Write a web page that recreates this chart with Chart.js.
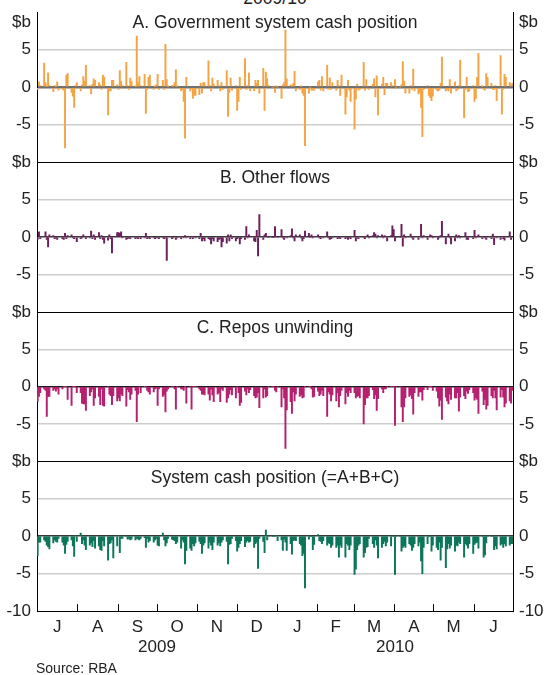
<!DOCTYPE html>
<html>
<head>
<meta charset="utf-8">
<script src="https://cdn.jsdelivr.net/npm/chart.js@4.4.1/dist/chart.umd.min.js"></script>
<style>
  html, body { margin: 0; padding: 0; background: #fff; }
  body { width: 544px; height: 675px; position: relative; overflow: hidden;
         font-family: Arial, "Liberation Sans", sans-serif; color: #222; }
  .panel { position: absolute; left: 0; width: 544px; }
  #title { position: absolute; top: -10px; left: 37px; width: 476px; text-align: center;
           font-size: 17.5px; line-height: 17px; }
  #source { position: absolute; left: 36px; top: 662px; font-size: 14px; line-height: 13px; }
</style>
</head>
<body>
<div id="title">2009/10</div>
<div class="panel" id="p0"><canvas id="c0"></canvas></div>
<div class="panel" id="p1"><canvas id="c1"></canvas></div>
<div class="panel" id="p2"><canvas id="c2"></canvas></div>
<div class="panel" id="p3"><canvas id="c3"></canvas></div>
<div id="source">Source: RBA</div>
<script>
const monthLabels = ['J', 'A', 'S', 'O', 'N', 'D', 'J', 'F', 'M', 'A', 'M', 'J'];
const yearLabels = ['2009', '2010'];
const yTicks = [-10, -5, 0, 5, 10];
const panelTitles = ['A. Government system cash position', 'B. Other flows',
                     'C. Repos unwinding', 'System cash position (=A+B+C)'];

// $b, one row per month (Jul 2009 .. Jun 2010), one value per weekday
const govCash = [
  [-0.3, 0.7, 0.2, 3.2, 0.6, 0.1, 1.9, 0.2, -0.6, 0.2, 0.1, 0.7, -0.4, -0.3, -0.4, -8.1, 1.6, 1.8, -0.7, -1.2, -2.7, 0.2, 0.6],
  [-0.5, 0.3, 1.4, 0.8, 2.9, 0.2, -0.9, 0.4, 1.1, 0.9, 0.6, 0.3, -0.3, 1.6, 1.3, -3.7, -0.5, -0.5, 0.9, 0.9, 0.3],
  [-0.3, 2.2, 0.8, 0.2, 3.3, 0.2, -0.3, 1.2, 0.8, 0.1, 6.8, 0.6, 1.4, 0.2, 1.7, -3.5, -0.3, 1.3, 1.6, -0.3, 0.1, 0.3],
  [1.7, -0.3, 0.9, -0.3, 5.7, 1.0, 0.1, 0.2, 0.2, 0.6, 2.3, 0.1, -0.5, -0.3, -1.9, -6.8, 1.3, -0.5, -0.2, -1.5, -1.1, -1.1],
  [-1.0, 0.5, -0.8, 0.6, 0.6, 3.5, 0.2, -0.5, 1.2, 0.4, 0.9, 0.2, -0.5, 0.6, -0.3, 2.2, -3.9, -0.7, 1.2, -0.4, 0.2],
  [-3.1, -1.9, 1.3, -0.3, 3.8, -0.3, 0.2, 1.9, -0.5, -0.5, 0.9, 0.5, 0.9, -0.8, 2.5, -3.1, 2.0, 1.1, 0.2, 0, 0, -0.7, 0.1],
  [0, -1.5, 0.3, 0.6, 7.6, 1.1, 0.3, 0.2, 0.5, 2.1, -0.5, -0.3, 0.1, -0.8, -1.1, -7.8, -0.8, 0, -0.4, -0.4, -0.4],
  [0.7, 0.9, -0.4, 1.4, -0.5, 2.9, -0.3, 1.2, -0.3, 0.6, -0.4, 0.9, 0.2, -1.1, 1.6, -3.6, -1.3, 0.9, -0.4, -1.9],
  [-5.6, -1.6, 0.4, -0.4, -0.3, 3.3, -0.4, 1.0, -0.2, -0.3, 0.4, 1.1, -1.3, 1.5, -3.7, 0.4, 1.3, -1.0, 0.5, 0.5, 0.6, 0.2, -0.2],
  [1.0, 0, 0, 0.3, 3.4, 0.8, -0.8, -0.8, 0.2, -0.3, 2.4, -0.5, -0.9, -0.7, -2.7, -6.6, -0.3, 0.2, -1.1, -1.4, -1.8, -1.2],
  [-0.4, -0.5, -0.4, 0.5, 4.0, -0.5, -0.3, -0.5, 1.0, -0.8, 0.7, -0.5, -0.3, 0.2, 3.6, -4.1, -0.3, 1.3, -0.6, -0.5, 0.2],
  [-1.9, -1.5, 1.3, 4.5, 0.1, -0.3, -0.4, 1.8, 1.3, 0.5, -0.3, -0.3, 0.2, -1.8, 4.2, -3.6, -0.3, 1.7, 1.3, 0.6, 0.3, 0.5]
];
const otherFlows = [
  [-0.3, 0.7, -0.2, 0.1, 0.7, -0.3, -1.3, 0.3, 0.2, -0.2, -0.1, -0.3, 0.1, -0.2, -0.3, 0.5, -0.2, 0.2, 0.3, -0.1, -0.2, 0.1, -0.6],
  [-0.2, -0.1, 0.3, 0.1, -0.2, -0.1, 0.8, -0.2, 0.3, -0.3, 0.6, -0.2, 0.2, -0.3, -0.8, -0.4, 0.3, -0.2, -2.1, 0.1, 0.6],
  [0.6, 0.5, 0.7, -0.1, -0.3, -0.2, -0.1, -0.2, 0.1, -0.2, -0.1, -0.2, 0.1, -0.2, -0.1, 0.5, -0.2, -0.1, -0.2, -0.1, -0.2, -0.1],
  [-0.1, -0.2, -0.1, -0.2, -0.1, -3.1, 0.1, -0.2, -0.1, 0.1, -0.3, -0.1, -0.2, 0.1, -0.1, 0.2, -0.1, -0.2, 0.1, -0.2, 0.1, -0.1],
  [-0.2, 0.5, -0.5, -0.2, -0.5, -0.2, -0.3, -0.9, -0.2, -0.5, -0.6, -0.3, -0.2, -1.3, -0.6, -0.8, 0.3, -0.5, 0.3, -0.2, -0.5],
  [-0.2, -0.1, -0.9, -0.2, -0.3, 1.4, -0.1, 0.3, 0.1, -0.5, -0.6, 0.9, -2.5, 3.0, -0.3, 0.3, 0.5, 0.1, 0, 0, 0, 1.4, 0.1],
  [0, 1.0, -0.1, -0.3, 0.1, -0.1, 0.2, 1.1, -0.1, -0.5, 0.3, 0.3, -0.1, -0.5, -0.2, 0.8, 0.5, 0, 0.3, -0.1, 0.1],
  [0.3, -0.1, -0.2, 0.1, -0.1, 0.7, -0.1, -0.3, -0.2, -0.1, 0.1, -0.2, -0.1, -0.2, 0.1, -0.2, -0.1, -0.3, -0.1, -0.2],
  [0.9, -0.5, -0.1, -0.2, 0.1, -0.1, -0.2, 0.1, 0.3, -0.1, 0.2, 0.6, 0.4, -0.1, 0.2, 0.3, -0.1, 0.2, 0.1, -0.5, 0.2, 1.5, 1.0],
  [-0.5, 0, 0, 1.7, -1.2, 0.3, -0.1, 0.1, 0.4, -0.1, -0.3, 0.1, -0.3, 0.1, 1.7, -0.1, 0.2, -0.3, 0.1, 0.3, 0.2, -0.1],
  [0.1, -0.3, -0.1, 0.2, 2.1, -0.9, 0.1, 0.4, -0.1, -0.9, -0.5, 0.3, -0.1, 0.2, -0.1, 0.1, 0.6, -0.3, -0.3, 0.1, -0.2],
  [0.9, -0.1, 0.1, 0.3, -0.2, 0.1, -0.1, -0.3, 0.1, -0.2, 0.4, -1.0, 0.1, -0.1, -0.3, 0.1, -0.2, -0.4, 0.1, 0.7, -0.3, 0.1]
];
const reposUnwinding = [
  [-2.0, -1.3, -0.8, -0.3, -0.5, -4.0, -1.3, -1.3, -0.5, -0.3, -0.6, -0.3, -1.0, -0.3, 0, 0, 0, -1.7, -2.5, 0, 0, 0, -0.8],
  [-0.8, -2.2, -2.3, -2.3, -3.2, -1.2, -0.7, -0.3, -2.5, -1.5, -1.3, -2.4, -0.3, -2.5, -2.6, 0, -1.0, -1.2, -2.4, -1.2, -1.9],
  [-1.5, -1.9, -1.0, -1.2, -2.6, -0.4, -0.7, -1.7, -1.0, -0.5, -4.7, -1.0, 0, -0.8, 0, 0, -0.5, -0.7, -1.0, -0.7, -0.3, -0.2],
  [-2.5, -0.3, -1.3, -1.1, -3.4, -0.6, -0.3, 0, 0, -0.3, -3.0, 0, -0.3, -0.3, -0.5, 0, -2.2, 0, -3.0, 0, 0, 0],
  [-0.3, -0.5, -1.0, -1.0, -1.1, -1.0, -1.8, -0.3, -1.1, -2.0, -1.0, -0.8, -2.0, -0.3, -0.5, -2.1, -1.5, -1.0, -0.4, -1.1, -1.5],
  [0, -0.8, -2.5, -2.1, -0.6, -1.1, -0.3, -0.8, -0.4, -1.2, -1.5, -1.4, -0.8, -2.8, -1.5, -0.3, -1.4, -1.2, 0, 0, 0, -0.5, -0.7],
  [0, -2.7, -0.3, -1.5, -8.3, -3.1, -2.0, -3.6, -0.7, -1.9, -1.0, -1.3, -1.1, -1.5, -1.4, 0, 0, 0, -0.3, -1.4, -1.3],
  [-0.6, -1.2, -1.0, -0.5, -1.2, -4.0, -0.7, -1.0, -1.9, -1.1, -1.9, -0.8, -2.7, -1.2, -0.5, -2.3, -0.8, -1.3, -0.5, -0.8],
  [-0.8, -1.5, -1.3, -1.2, -1.5, -5.0, -2.4, -1.5, -1.5, -1.2, -0.4, -1.6, -1.1, -3.2, -1.6, -0.3, -0.8, -0.3, -0.3, 0, 0, 0, 0],
  [-5.2, 0, 0, -2.7, -4.7, -2.7, -1.5, -1.3, -1.1, -1.6, -3.7, -0.8, -1.3, -0.7, -0.7, -1.8, -0.4, -0.4, 0, 0, 0, -0.5],
  [-0.6, -1.5, -2.6, -1.8, -4.4, -1.4, -1.9, -2.3, -1.0, -1.7, -1.5, -1.5, -0.8, -3.3, -1.4, -1.2, -1.6, -0.6, -0.9, -0.4, -0.8],
  [-1.8, -1.5, -1.7, -3.6, -0.6, -2.4, -1.7, -3.0, -2.5, -1.2, -1.5, -0.5, -1.5, -3.1, -1.4, -0.4, -1.4, -2.7, -2.2, -1.9, -2.2, -0.5]
];
const systemCash = [
  [-2.6, -0.8, -0.8, -0.5, -0.7, -1.2, -1.4, -1.7, -0.9, -0.5, -0.7, -0.8, -0.3, -0.8, -1.2, -2.3, -1.1, -0.7, -0.5, -1.3, -2.7, 0.1, -0.7],
  [0.4, -1.0, -0.5, -1.2, -1.8, -1.2, -0.9, -1.4, -0.6, -1.6, -1.3, -1.8, -1.9, -0.6, -1.3, -3.2, -1.0, -0.9, -0.5, -2.9, -1.3],
  [0.1, -2.2, -0.3, -0.3, 0, -0.4, -0.3, -0.5, -0.4, -0.5, -0.3, -0.4, -0.5, -0.3, -0.2, -1.5, -0.3, -0.8, -0.6, -0.8, -0.5, -0.3],
  [-1.2, -1.3, 0.4, -0.5, -1.3, -0.9, -0.3, -0.4, -0.5, -0.6, -1.0, -0.8, -1.6, -0.5, -0.8, -3.7, -1.9, -1.6, -1.9, -1.0, -1.3, -0.9],
  [-0.7, -1.0, -2.3, -1.2, -0.9, -1.6, -0.8, -1.2, -1.8, -0.8, -1.2, -0.9, -1.3, -0.8, -0.5, -0.7, -3.7, -1.1, -1.0, -0.3, -0.6],
  [-2.0, -1.5, -1.0, -0.6, -1.4, -0.8, -0.6, -0.8, -0.7, -1.5, -1.0, -0.8, -4.3, -0.3, -0.7, -2.2, 0.8, -0.5, 0, 0, 0, 0, 0.1],
  [-0.6, -0.5, -1.9, -0.4, -0.8, -1.9, -1.0, -2.4, -0.6, -0.5, -0.6, -1.0, -1.2, -2.6, -2.3, -6.9, -0.4, 0, 0, -1.8, -1.1],
  [0.2, -0.6, -0.7, -1.0, -0.6, -1.2, -0.9, -1.0, -1.5, -1.2, -1.5, -1.2, -2.8, -1.2, -1.5, -2.8, -1.0, -1.2, -1.8, -1.2],
  [-5.1, -4.4, -1.8, -1.2, -1.0, -2.8, -2.2, -1.5, -1.4, -0.3, -1.0, -1.5, -0.5, -1.2, -2.9, -1.5, -1.0, -0.7, -1.3, -0.8, -1.3, 0, 0],
  [-5.1, 0, 0, -2.0, -1.5, -1.3, -1.5, -1.0, -1.2, -1.9, -1.5, -1.0, -1.3, -0.8, -3.3, -5.0, -1.5, -1.0, 0, 0, -2.0, -1.2],
  [-1.5, -1.8, -0.8, -3.2, -1.5, -4.2, -1.7, -1.0, -1.6, -1.2, -2.0, -1.2, -1.3, -0.8, -1.0, -2.8, -1.0, -1.2, -1.6, -1.0, -2.3],
  [-1.1, -0.9, -0.8, -1.6, 0, -2.8, -2.5, -0.9, 0, 0, 0, -1.8, -1.3, -1.7, -1.2, -1.0, -1.5, -1.0, -1.3, -1.2, -1.0, -1.0]
];

const seriesList = [govCash, otherFlows, reposUnwinding, systemCash];
const barColors = ['#f5a444', '#6b1f5c', '#b5206f', '#0b7659'];
const zeroColors = ['#707070', '#3a3a3a', '#1e1e1e', '#3a3a3a'];
const zeroWidths = [2.5, 1.5, 1.5, 1.5];
const titleDy = [11, 16, 16, 17];
const panelTop = [12, 162, 312, 461];
const panelBottom = [162, 312, 461, 611];
const plotLeft = 37, plotRight = 513;
const FONT = 'Arial, "Liberation Sans", sans-serif';

// calendar: day offsets from 1 Jul 2009
const DAY = 86400000;
const start = Date.UTC(2009, 6, 1);
const monthStarts = [];
for (let m = 0; m <= 12; m++) monthStarts.push((Date.UTC(2009, 6 + m, 1) - start) / DAY);
const monthMid = monthLabels.map((_, m) => (monthStarts[m] + monthStarts[m + 1]) / 2);
const yearMid = [(monthStarts[0] + monthStarts[6]) / 2, (monthStarts[6] + monthStarts[12]) / 2];

function weekdaysOf(m) {
  const out = [];
  for (let d = monthStarts[m]; d < monthStarts[m + 1]; d++) {
    const wd = new Date(start + d * DAY).getUTCDay();
    if (wd !== 0 && wd !== 6) out.push(d);
  }
  return out;
}

function toPoints(series) {
  const pts = [];
  series.forEach((vals, m) => {
    const days = weekdaysOf(m);
    vals.forEach((v, j) => {
      if (j < days.length) pts.push({ x: days[j] + 0.5, y: v });
    });
  });
  return pts;
}

function makePanel(i) {
  const last = i === 3;
  const padTop = 12;
  const xHeight = 30;
  const want = panelBottom[i] - panelTop[i];
  const top = panelTop[i] - padTop;
  const height = last ? 675 - top : want + 24;
  const padBottom = last ? height - padTop - want - xHeight : 12;
  const holder = document.getElementById('p' + i);
  holder.style.top = top + 'px';
  const canvas = document.getElementById('c' + i);
  canvas.width = 544;
  canvas.height = height;
  canvas.style.width = '544px';
  canvas.style.height = height + 'px';

  const tickLabel = v => {
    if (v === 10) return i === 0 ? '' : '$b';
    if (v === -10 && !last) return '';
    return String(v);
  };
  const yCommon = {
    type: 'linear', min: -10, max: 10,
    afterBuildTicks: s => { s.ticks = yTicks.map(v => ({ value: v })); },
    ticks: { callback: tickLabel, color: '#222', font: { size: 17, family: FONT }, padding: 6 },
    border: { display: true, color: '#000', width: 1 }
  };

  const panelText = {
    id: 'panelText',
    afterDraw(chart) {
      const { ctx, chartArea } = chart;
      ctx.save();
      ctx.fillStyle = '#222';
      ctx.textBaseline = 'middle';
      ctx.font = '17.5px ' + FONT;
      ctx.textAlign = 'center';
      ctx.fillText(panelTitles[i], (chartArea.left + chartArea.right) / 2, chartArea.top + titleDy[i]);
      if (i === 0) {
        ctx.font = '17px ' + FONT;
        ctx.textAlign = 'right';
        ctx.fillText('$b', chartArea.left - 6, chartArea.top + 10);
        ctx.textAlign = 'left';
        ctx.fillText('$b', chartArea.right + 6, chartArea.top + 10);
      }
      if (last) {
        const x = chart.scales.x;
        ctx.strokeStyle = '#000';
        ctx.lineWidth = 1;
        ctx.beginPath();
        monthStarts.slice(1, 12).forEach(d => {
          const px = Math.round(x.getPixelForValue(d)) + 0.5;
          ctx.moveTo(px, chartArea.bottom - 7);
          ctx.lineTo(px, chartArea.bottom);
        });
        ctx.stroke();
        ctx.font = '17px ' + FONT;
        ctx.textAlign = 'center';
        yearLabels.forEach((t, k) => {
          ctx.fillText(t, x.getPixelForValue(yearMid[k]), chartArea.bottom + 36);
        });
      }
      ctx.restore();
    }
  };

  const chart = new Chart(canvas, {
    type: 'bar',
    data: {
      datasets: [{
        data: toPoints(seriesList[i]),
        backgroundColor: barColors[i],
        borderWidth: 0,
        barThickness: 1.3
      }]
    },
    options: {
      responsive: false,
      maintainAspectRatio: false,
      animation: false,
      events: [],
      layout: { padding: { top: padTop, bottom: padBottom, left: 0, right: 0 } },
      plugins: { legend: { display: false }, tooltip: { enabled: false } },
      scales: {
        x: {
          type: 'linear', min: 0, max: 365, offset: false,
          display: last,
          afterBuildTicks: s => { s.ticks = monthMid.map(v => ({ value: v })); },
          afterFit: s => { s.height = last ? xHeight : 0; },
          grid: { display: false, drawTicks: false, tickLength: 0 },
          border: { display: true, color: '#000', width: 1 },
          ticks: {
            autoSkip: false, maxRotation: 0, padding: 6, color: '#222',
            font: { size: 17, family: FONT },
            callback: (v, k) => monthLabels[k]
          }
        },
        y: Object.assign({}, yCommon, {
          position: 'left',
          afterFit: s => { s.width = plotLeft; },
          grid: {
            drawTicks: false,
            color: ctx => {
              const v = ctx.tick.value;
              if (v === 0) return zeroColors[i];
              if (v === 10) return i === 0 ? 'rgba(0,0,0,0)' : '#000';
              if (v === -10) return last ? '#000' : 'rgba(0,0,0,0)';
              return '#cdcdcd';
            },
            lineWidth: ctx => {
              const v = ctx.tick.value;
              if (v === 0) return zeroWidths[i];
              if (Math.abs(v) === 5) return 1.5;
              return 1;
            }
          }
        }),
        yr: Object.assign({}, yCommon, {
          position: 'right',
          afterFit: s => { s.width = 544 - plotRight; },
          grid: { display: false, drawTicks: false, tickLength: 0 }
        })
      }
    },
    plugins: [panelText]
  });

  // Chart.js adds room for the end tick labels; stretch the canvas so the
  // plot area keeps the panel height, then line its top up with the panel.
  const got = chart.chartArea.bottom - chart.chartArea.top;
  if (Math.abs(got - want) > 0.01) chart.resize(544, height + (want - got));
  holder.style.top = (panelTop[i] - chart.chartArea.top) + 'px';
  return chart;
}

[0, 1, 2, 3].forEach(makePanel);
</script>
</body>
</html>
